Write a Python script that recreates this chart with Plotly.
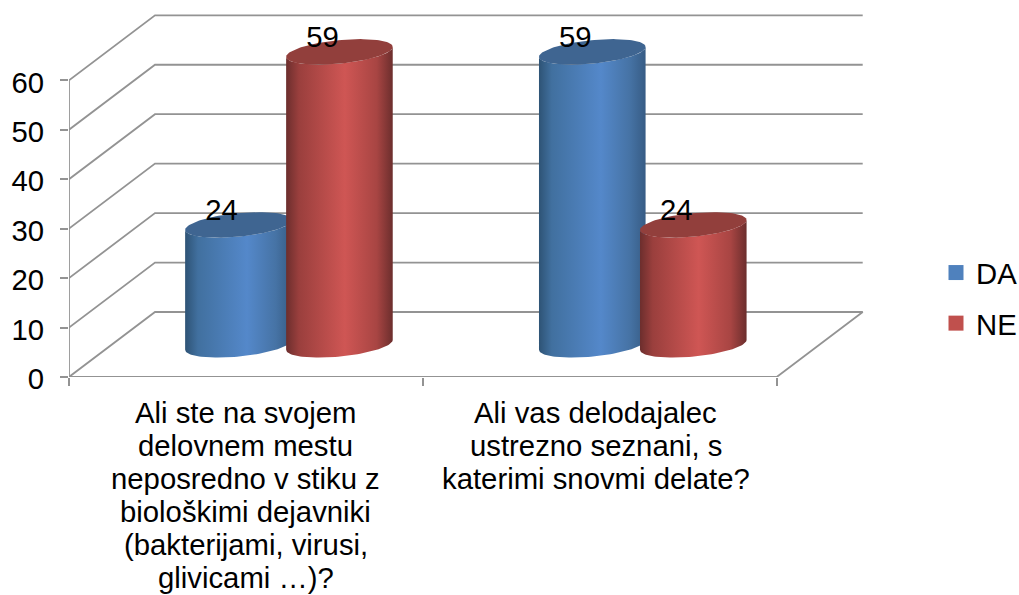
import numpy as np
import plotly.graph_objects as go

category_lines = [
    ["Ali ste na svojem", "delovnem mestu", "neposredno v stiku z", "biološkimi dejavniki",
     "(bakterijami, virusi,", "glivicami …)?"],
    ["Ali vas delodajalec", "ustrezno seznani, s", "katerimi snovmi delate?"],
]
da_values = [24, 59]
ne_values = [59, 24]
y_ticks = [0, 10, 20, 30, 40, 50, 60]

FONT = "Liberation Sans"
FS = 29.3
GRID = "#939393"
LW = 1.8
PX_X, PX_Y = 353.85, 4.945   # pixels per axis unit
DX, DY = 86 / PX_X, 65 / PX_Y
BASE_DX, BASE_DY = 43 / PX_X, 6.5
TOP_LIFT = 0.25
OFFSET = 50.5 / PX_X
HALF_W = 53.3 / PX_X
SHEAR = 1.0
ELL_B = 2.38
LABEL_DX, LABEL_DY = -17 / PX_X, 9.15

BLUE = [[0, "#2E5375"], [0.12, "#41709F"], [0.58, "#5488CA"], [0.85, "#4673A5"], [1, "#375C85"]]
RED = [[0, "#6C2E2D"], [0.12, "#9A3F3D"], [0.55, "#CF5654"], [0.85, "#A84543"], [1, "#6C2E2D"]]
BLUE_CAP, RED_CAP = "#3F6591", "#923F3C"

fig = go.Figure()

def line_trace(xs, ys):
    fig.add_trace(go.Scatter(x=xs, y=ys, mode="lines", line=dict(color=GRID, width=LW),
                             showlegend=False, hoverinfo="skip"))

line_trace([0, DX, 2 + DX, 2, 0], [0, DY, DY, 0, 0])
line_trace([0, 0], [0, y_ticks[-1]])
for v in y_ticks[1:]:
    line_trace([0, DX, 2 + DX], [v, v + DY, v + DY])

def ell(cx, cy, t):
    return cx + HALF_W * np.cos(t), cy + ELL_B * np.sin(t) + SHEAR * np.cos(t)

def cylinder(cx, value, scale, cap):
    cy0 = BASE_DY
    cy1 = BASE_DY + value + TOP_LIFT
    t_low = np.linspace(np.pi, 2 * np.pi, 60)
    bx, by = ell(cx, cy0, t_low)
    tx, ty = ell(cx, cy1, t_low[::-1])
    fig.add_trace(go.Scatter(
        x=np.r_[bx, tx], y=np.r_[by, ty], mode="lines", fill="toself",
        line=dict(width=0), fillgradient=dict(type="horizontal", colorscale=scale),
        showlegend=False, hoverinfo="skip"))
    t_all = np.linspace(0, 2 * np.pi, 120)
    ex, ey = ell(cx, cy1, t_all)
    fig.add_trace(go.Scatter(
        x=ex, y=ey, mode="lines", fill="toself", fillcolor=cap,
        line=dict(width=0), showlegend=False, hoverinfo="skip"))

centers = [0.5, 1.5]
label_x, label_y, label_t = [], [], []
for c, d, n in zip(centers, da_values, ne_values):
    cylinder(c + BASE_DX - OFFSET, d, BLUE, BLUE_CAP)
    cylinder(c + BASE_DX + OFFSET, n, RED, RED_CAP)
    label_x += [c + BASE_DX - OFFSET + LABEL_DX, c + BASE_DX + OFFSET + LABEL_DX]
    label_y += [d + LABEL_DY, n + LABEL_DY]
    label_t += [str(d), str(n)]

fig.add_trace(go.Scatter(x=label_x, y=label_y, text=label_t, mode="text",
                         textposition="middle center",
                         textfont=dict(family=FONT, size=FS, color="black"),
                         showlegend=False, hoverinfo="skip"))

for name, col in (("DA", "#4F81BD"), ("NE", "#C0504D")):
    fig.add_trace(go.Scatter(x=[None], y=[None], mode="markers", name=name, legendgroup=name,
                             marker=dict(symbol="square", size=15, color=col)))

annotations = []
for c, lines, xs in zip(centers, category_lines, (0, -4)):
    for i, line in enumerate(lines):
        annotations.append(dict(x=c, y=0, xref="x", yref="y", text=line, showarrow=False,
                                xanchor="center", yanchor="middle", xshift=xs,
                                yshift=-(35.5 + i * 33),
                                font=dict(family=FONT, size=FS, color="black")))

W, H = 1019, 595
L, T = 69, 10
plot_w, plot_h = W - L, 367
fig.update_layout(
    width=W, height=H, autosize=False,
    margin=dict(l=L, r=0, t=T, b=H - T - plot_h, autoexpand=False, pad=0),
    paper_bgcolor="white", plot_bgcolor="white",
    font=dict(family=FONT, size=FS, color="black"),
    legend=dict(x=(943 - L) / plot_w, y=1 - (247 - T) / plot_h, xanchor="left", yanchor="top",
                tracegroupgap=9.5, font=dict(family=FONT, size=FS), itemwidth=30,
                indentation=-7, bgcolor="rgba(0,0,0,0)"),
    annotations=annotations,
    xaxis=dict(range=[0, plot_w / PX_X], tickmode="array", tickvals=[0, 1, 2],
               showticklabels=False, ticks="outside", ticklen=8, tickwidth=LW, tickcolor=GRID,
               showgrid=False, zeroline=False, showline=False),
    yaxis=dict(range=[0, plot_h / PX_Y], tickmode="array", tickvals=y_ticks, ticks="outside",
               ticklen=8, tickwidth=LW, tickcolor=GRID, showgrid=False, zeroline=False,
               showline=False, ticklabelstandoff=10, ticklabelshift=2),
)

fig.write_html("out.html", post_script="document.body.style.margin='0';",
               config={"displayModeBar": False})
